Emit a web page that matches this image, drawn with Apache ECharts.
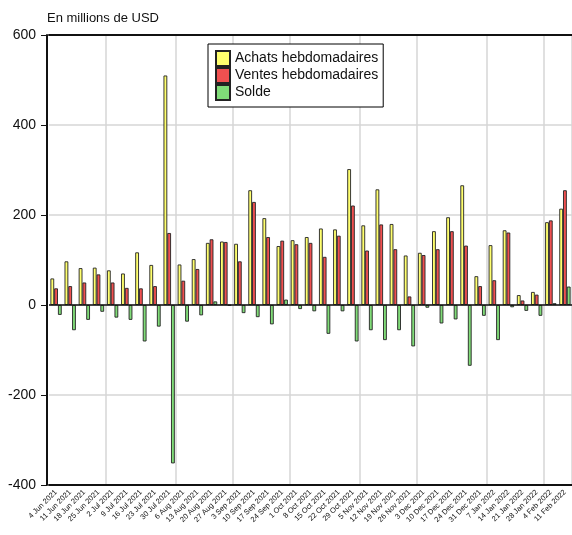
<!DOCTYPE html>
<html>
<head>
<meta charset="utf-8">
<script src="https://cdn.jsdelivr.net/npm/echarts@6/dist/echarts.min.js"></script>
<style>
    html, body { margin: 0; padding: 0; background: #fff; }
    #chart { width: 572px; height: 535px; }
</style>
</head>
<body>
<div id="chart"></div>
<script>
// Weekly flows, millions of USD
const weeks = [
    "4 Jun 2021", "11 Jun 2021", "18 Jun 2021", "25 Jun 2021",
    "2 Jul 2021", "9 Jul 2021", "16 Jul 2021", "23 Jul 2021", "30 Jul 2021",
    "6 Aug 2021", "13 Aug 2021", "20 Aug 2021", "27 Aug 2021",
    "3 Sep 2021", "10 Sep 2021", "17 Sep 2021", "24 Sep 2021",
    "1 Oct 2021", "8 Oct 2021", "15 Oct 2021", "22 Oct 2021", "29 Oct 2021",
    "5 Nov 2021", "12 Nov 2021", "19 Nov 2021", "26 Nov 2021",
    "3 Dec 2021", "10 Dec 2021", "17 Dec 2021", "24 Dec 2021", "31 Dec 2021",
    "7 Jan 2022", "14 Jan 2022", "21 Jan 2022", "28 Jan 2022",
    "4 Feb 2022", "11 Feb 2022"
];
const achats = [59, 97, 82, 83, 77, 70, 117, 89, 510, 90, 102, 138, 141, 136, 255, 193, 131, 144, 151, 170, 168, 302, 177, 257, 180, 110, 116, 164, 195, 266, 64, 133, 166, 22, 29, 184, 214];
const ventes = [37, 42, 50, 68, 50, 38, 37, 42, 160, 54, 80, 146, 140, 97, 229, 151, 143, 135, 138, 107, 154, 221, 121, 179, 124, 19, 111, 124, 164, 132, 42, 55, 161, 10, 23, 188, 255];
const solde = [-22, -56, -33, -15, -28, -33, -81, -48, -352, -37, -23, 8, -1, -18, -27, -43, 12, -9, -14, -64, -14, -81, -56, -78, -56, -92, -6, -41, -32, -135, -24, -78, -5, -13, -24, 4, 41];
const yTicks = { min: -400, max: 600, step: 200 };

const FONT = "'Liberation Sans', Arial, sans-serif";
const monthOf = (label) => label.split(" ")[1];

const chart = echarts.init(document.getElementById("chart"), null, { renderer: "canvas" });

const barStyle = (color) => ({
    color,
    borderColor: "#222",
    borderWidth: 0.9,
});

chart.setOption({
    animation: false,
    backgroundColor: "#fff",
    textStyle: { fontFamily: FONT },
    title: {
        text: "En millions de USD",
        left: 42,
        top: 7,
        textStyle: { fontFamily: FONT, fontSize: 13, fontWeight: "normal", color: "#111" },
    },
    legend: {
        orient: "vertical",
        left: 208,
        top: 44,
        padding: [6, 5, 6, 7],
        itemGap: 0,
        itemWidth: 14,
        itemHeight: 15,
        icon: "rect",
        borderColor: "#000",
        borderWidth: 1,
        backgroundColor: "#fff",
        textStyle: { fontFamily: FONT, fontSize: 14, color: "#111", lineHeight: 17 },
    },
    grid: { left: 49, right: 0, top: 35, bottom: 50, containLabel: false },
    xAxis: [
        {
            type: "category",
            data: weeks,
            position: "bottom",
            axisLine: { onZero: false, lineStyle: { color: "#111", width: 2 } },
            axisTick: { alignWithLabel: true, length: 7, lineStyle: { color: "#111", width: 1 } },
            axisLabel: {
                interval: 0,
                rotate: 45,
                fontSize: 7.5,
                margin: 6,
                color: "#111",
                fontFamily: FONT,
            },
            splitLine: {
                show: true,
                interval: (i) => i > 0 && i < weeks.length && monthOf(weeks[i]) !== monthOf(weeks[i - 1]),
                lineStyle: { color: "#d6d6d6", width: 1.5 },
            },
        },
        {
            type: "category",
            data: weeks,
            position: "top",
            axisLine: { onZero: false, lineStyle: { color: "#111", width: 2 } },
            axisTick: { show: false },
            axisLabel: { show: false },
        },
    ],
    yAxis: {
        type: "value",
        min: yTicks.min,
        max: yTicks.max,
        interval: yTicks.step,
        offset: 2,
        axisLine: { show: true, lineStyle: { color: "#111", width: 2 } },
        axisTick: { show: true, length: 6, lineStyle: { color: "#111" } },
        axisLabel: { fontSize: 14, color: "#111", margin: 11, fontFamily: FONT },
        splitLine: { show: true, lineStyle: { color: "#d6d6d6", width: 1.5 } },
    },
    series: [
        {
            name: "Achats hebdomadaires",
            type: "bar",
            data: achats,
            barGap: "0%",
            barCategoryGap: "20%",
            itemStyle: barStyle("#FFFF6E"),
            markLine: {
                silent: true,
                symbol: "none",
                label: { show: false },
                lineStyle: { color: "#111", type: "solid", width: 1.5 },
                data: [{ yAxis: 0 }],
            },
        },
        {
            name: "Ventes hebdomadaires",
            type: "bar",
            data: ventes,
            itemStyle: barStyle("#F05050"),
        },
        {
            name: "Solde",
            type: "bar",
            data: solde,
            itemStyle: barStyle("#80DC78"),
        },
    ],
});
</script>
</body>
</html>
